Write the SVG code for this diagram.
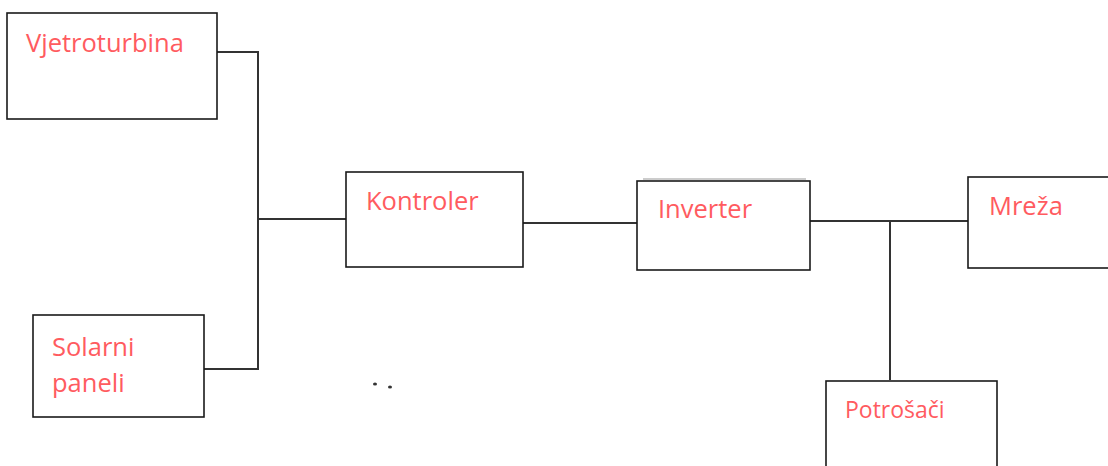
<svg xmlns="http://www.w3.org/2000/svg" width="1108" height="466" viewBox="0 0 1108 466">
<style>
.box{fill:#fff;stroke:#1a1a1a;stroke-width:1.6}
.lbl{font-family:"Open Sans","Liberation Sans",sans-serif;fill:#ff5b5f;font-size:25.5px}
.sm{font-size:23px}
.con{fill:none;stroke:#333;stroke-width:2}
</style>
<rect width="1108" height="466" fill="#fff"/>
<g id="connectors">
<polyline class="con" points="217,52 258,52 258,369 204,369"/>
<line class="con" x1="258" y1="219" x2="346" y2="219"/>
<line class="con" x1="523" y1="223" x2="637" y2="223"/>
<line class="con" x1="810" y1="221" x2="968" y2="221"/>
<line class="con" x1="890" y1="221" x2="890" y2="380"/>
</g>
<g id="vjetroturbina"><rect class="box" x="7" y="13" width="210" height="106"/><text class="lbl" x="26" y="52">Vjetroturbina</text></g>
<g id="solarni"><rect class="box" x="33" y="315" width="171" height="102"/><text class="lbl" x="52" y="356">Solarni</text><text class="lbl" x="52" y="392">paneli</text></g>
<g id="kontroler"><rect class="box" x="346" y="172" width="177" height="95"/><text class="lbl" x="366" y="210">Kontroler</text></g>
<g id="inverter"><line x1="643" y1="179" x2="806" y2="179" stroke="#999" stroke-width="1"/><rect class="box" x="637" y="181" width="173" height="89"/><text class="lbl" x="658" y="218">Inverter</text></g>
<g id="mreza"><rect class="box" x="968" y="177" width="145" height="91"/><text class="lbl" x="989" y="215">Mreža</text></g>
<g id="potrosaci"><rect class="box" x="826" y="381" width="171" height="90"/><text class="lbl sm" x="845" y="418">Potrošači</text></g>
<g id="dots" fill="#333"><ellipse cx="375" cy="384" rx="2" ry="1.5"/><ellipse cx="390" cy="387" rx="2" ry="1.5"/></g>
</svg>
